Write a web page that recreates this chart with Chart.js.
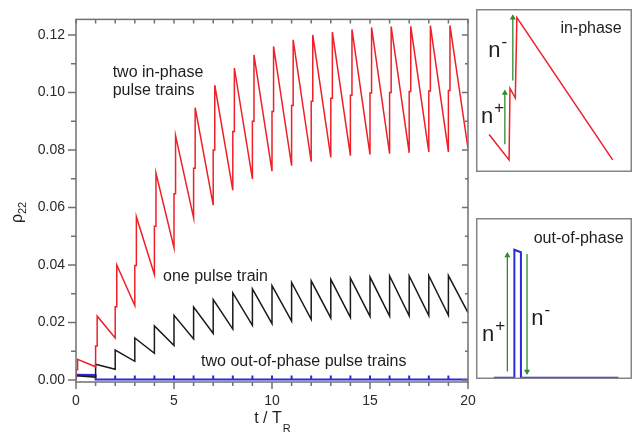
<!DOCTYPE html>
<html>
<head>
<meta charset="utf-8">
<script src="https://cdn.jsdelivr.net/npm/chart.js@4.4.1/dist/chart.umd.min.js"></script>
<style>
    html, body { margin: 0; padding: 0; background: #fff; }
    #wrap { position: relative; width: 637px; height: 436px; }
    #wrap canvas { position: absolute; }
</style>
</head>
<body>
<div id="wrap">
    <canvas id="main" width="637" height="436" style="left:0;top:0"></canvas>
    <canvas id="inTop" width="164" height="171" style="left:472px;top:5px"></canvas>
    <canvas id="inBot" width="164" height="169" style="left:472px;top:214px"></canvas>
</div>
<script>
/*
    Data
*/

// pulse arrival times (t / T_R)
const pulseT = [0, 1, 2, 3, 4, 5, 6, 7, 8, 9, 10, 11, 12, 13, 14, 15, 16, 17, 18, 19];
const secondPulseDelay = 0.08; // the n- pulse comes a little after the n+ pulse

// two in-phase pulse trains (red)
const redTrough = [0, 0.0046, 0.0146, 0.0259, 0.0367, 0.0460, 0.0564, 0.0608, 0.0660, 0.0699,
                   0.0726, 0.0745, 0.0759, 0.0774, 0.0780, 0.0784, 0.0787, 0.0790, 0.0793, 0.0793];
const redMid    = [0.0036, 0.0118, 0.0255, 0.0398, 0.0535, 0.0648, 0.0736, 0.0800, 0.0864, 0.0900,
                   0.0934, 0.0955, 0.0969, 0.0980, 0.0990, 0.0998, 0.1000, 0.1003, 0.1005, 0.1007];
const redPeak   = [0.0072, 0.0222, 0.0400, 0.0568, 0.0720, 0.0850, 0.0947, 0.1025, 0.1085, 0.1131,
                   0.1160, 0.1183, 0.1200, 0.1210, 0.1219, 0.1226, 0.1229, 0.1230, 0.1232, 0.1233];
const redEnd = 0.0805;

// one pulse train (black)
const blackTrough = [0, 0.0010, 0.0037, 0.0065, 0.0093, 0.0120, 0.0143, 0.0162, 0.0177, 0.0190,
                     0.0196, 0.0205, 0.0211, 0.0216, 0.0218, 0.0221, 0.0222, 0.0223, 0.0224, 0.0225];
const blackPeak   = [0.0015, 0.0055, 0.0104, 0.0146, 0.0188, 0.0225, 0.0254, 0.0280, 0.0303, 0.0317,
                     0.0328, 0.0339, 0.0345, 0.0350, 0.0354, 0.0358, 0.0362, 0.0362, 0.0363, 0.0363];
const blackEnd = 0.0234;

// two out-of-phase pulse trains (blue)
const blueBase = 0.0002;
const blueFirst = [0.0018, 0.0017];          // level between t = 0 and t = 1
const blueSpike = [0.0016, 0.0016, 0.0016, 0.0016, 0.0016, 0.0016, 0.0016, 0.0016, 0.0016,
                   0.0016, 0.0016, 0.0016, 0.0016, 0.0016, 0.0016, 0.0016, 0.0016, 0.0016]; // t = 2..19

// axis ticks
const xTickValues = [0, 1, 2, 3, 4, 5, 6, 7, 8, 9, 10, 11, 12, 13, 14, 15, 16, 17, 18, 19, 20];
const xTickLabels = ['0', '', '', '', '', '5', '', '', '', '', '10', '', '', '', '', '15', '', '', '', '', '20'];
const yTickValues = [0, 0.01, 0.02, 0.03, 0.04, 0.05, 0.06, 0.07, 0.08, 0.09, 0.10, 0.11, 0.12];
const yTickLabels = ['0.00', '', '0.02', '', '0.04', '', '0.06', '', '0.08', '', '0.10', '', '0.12'];

// inset sketches, arbitrary units 0..100 across each box
const inPhaseX = [8.4, 21.2, 21.8, 25.2, 26.2, 87.6];
const inPhaseY = [23.0, 7.4, 51.3, 45.4, 94.7, 7.4];
const inPlusArrowX = [18.5, 18.5];
const inPlusArrowY = [17.1, 48.4];
const inMinusArrowX = [23.6, 23.6];
const inMinusArrowY = [56.1, 94.7];

const outPhaseX = [11.4, 24.6, 24.6, 28.8, 28.8, 91.3];
const outPhaseY = [0.8, 0.8, 80.3, 78.7, 0.8, 0.8];
const outPlusArrowX = [20.1, 20.1];
const outPlusArrowY = [4.7, 76.7];
const outMinusArrowX = [32.7, 32.7];
const outMinusArrowY = [77.7, 4.7];

/*
    Build the line points
*/

const redPts = [];
pulseT.forEach((t, i) => {
    redPts.push({x: t, y: redTrough[i]});
    redPts.push({x: t, y: redMid[i]});
    redPts.push({x: t + secondPulseDelay, y: redMid[i]});
    redPts.push({x: t + secondPulseDelay, y: redPeak[i]});
});
redPts.push({x: 20, y: redEnd});

const blackPts = [];
pulseT.forEach((t, i) => {
    blackPts.push({x: t, y: blackTrough[i]});
    blackPts.push({x: t, y: blackPeak[i]});
});
blackPts.push({x: 20, y: blackEnd});

const bluePts = [{x: 0, y: blueBase}, {x: 0, y: blueFirst[0]}, {x: 1, y: blueFirst[1]}, {x: 1, y: blueBase}];
blueSpike.forEach((v, i) => {
    const t = pulseT[i + 2];
    bluePts.push({x: t, y: blueBase}, {x: t, y: v}, {x: t, y: blueBase});
});
bluePts.push({x: 20, y: blueBase});

const zip = (xs, ys) => xs.map((x, i) => ({x: x, y: ys[i]}));

const FONT = "'Liberation Sans', Arial, sans-serif";
const RED = '#ee2028';
const BLUE = '#2a2ad6';
const GREEN = '#2f8a2f';

/*
    Main chart
*/

const notes = [
    {text: 'two in-phase', t: 1.87, v: 0.1054},
    {text: 'pulse trains', t: 1.87, v: 0.0990},
    {text: 'one pulse train', t: 4.44, v: 0.0343},
    {text: 'two out-of-phase pulse trains', t: 6.38, v: 0.0050}
];

const mainDecor = {
    id: 'mainDecor',
    afterDatasetsDraw(chart) {
        const {ctx, chartArea: a, scales: {x, y}} = chart;
        ctx.save();
        ctx.strokeStyle = '#707070';
        ctx.lineWidth = 1.5;
        ctx.strokeRect(a.left, a.top, a.right - a.left, a.bottom - a.top);
        ctx.beginPath();
        x.ticks.forEach(tk => {
            const px = x.getPixelForValue(tk.value);
            ctx.moveTo(px, a.bottom);
            ctx.lineTo(px, a.bottom + (tk.label ? 7 : 4));
            ctx.moveTo(px, a.top);
            ctx.lineTo(px, a.top + 4);
        });
        y.ticks.forEach(tk => {
            const py = y.getPixelForValue(tk.value);
            ctx.moveTo(a.left, py);
            ctx.lineTo(a.left - (tk.label ? 8 : 5), py);
            ctx.moveTo(a.right, py);
            ctx.lineTo(a.right - (tk.label ? 6 : 3), py);
        });
        ctx.stroke();

        // in-plot notes
        ctx.fillStyle = '#1e1e1e';
        ctx.font = '16px ' + FONT;
        ctx.textBaseline = 'alphabetic';
        ctx.textAlign = 'left';
        notes.forEach(n => ctx.fillText(n.text, x.getPixelForValue(n.t), y.getPixelForValue(n.v)));

        // axis titles with subscripts
        ctx.font = '16px ' + FONT;
        const tw = ctx.measureText('t / T').width;
        const cx = (a.left + a.right) / 2;
        ctx.fillText('t / T', cx - tw / 2 - 4, 423);
        ctx.font = '11px ' + FONT;
        ctx.fillText('R', cx + tw / 2 - 3, 432);

        ctx.translate(22, 214);
        ctx.rotate(-Math.PI / 2);
        ctx.font = '16px ' + FONT;
        ctx.fillText('\u03c1', -9, 0);
        ctx.font = '11px ' + FONT;
        ctx.fillText('22', 0, 4);
        ctx.restore();
    }
};

new Chart(document.getElementById('main').getContext('2d'), {
    type: 'line',
    data: {
        datasets: [
            {data: redPts, borderColor: RED, borderWidth: 1.5},
            {data: blackPts, borderColor: '#1a1a1a', borderWidth: 1.5},
            {data: bluePts, borderColor: BLUE, borderWidth: 2}
        ]
    },
    options: {
        animation: false,
        responsive: false,
        events: [],
        elements: {
            point: {radius: 0},
            line: {tension: 0, fill: false}
        },
        layout: {padding: {top: 7, right: 169, left: 0, bottom: 0}},
        plugins: {legend: {display: false}, tooltip: {enabled: false}},
        scales: {
            x: {
                type: 'linear',
                min: 0,
                max: 20,
                afterBuildTicks: s => { s.ticks = xTickValues.map(v => ({value: v})); },
                afterFit: s => { s.height = 54; },
                grid: {display: false, drawTicks: false},
                border: {display: false},
                ticks: {
                    autoSkip: false,
                    maxRotation: 0,
                    padding: 11,
                    color: '#2a2a2a',
                    font: {family: FONT, size: 14},
                    callback: (v, i) => xTickLabels[i]
                }
            },
            y: {
                type: 'linear',
                min: -0.0007,
                max: 0.1254,
                afterBuildTicks: s => { s.ticks = yTickValues.map(v => ({value: v})); },
                afterFit: s => { s.width = 76; },
                grid: {display: false, drawTicks: false},
                border: {display: false},
                ticks: {
                    autoSkip: false,
                    padding: 11,
                    color: '#2a2a2a',
                    font: {family: FONT, size: 14},
                    callback: (v, i) => yTickLabels[i]
                }
            }
        }
    },
    plugins: [mainDecor]
});

/*
    Insets
*/

function drawN(ctx, px, py, sign) {
    ctx.font = '22px ' + FONT;
    ctx.fillText('n', px, py);
    const w = ctx.measureText('n').width;
    ctx.font = '17px ' + FONT;
    ctx.fillText(sign, px + w + 1, py - 10);
}

function insetDecor(title, titlePos, marks) {
    return {
        id: 'insetDecor',
        afterDatasetsDraw(chart) {
            const {ctx, chartArea: a, scales: {x, y}} = chart;
            ctx.save();
            ctx.strokeStyle = '#858585';
            ctx.lineWidth = 1.5;
            ctx.strokeRect(a.left + 0.75, a.top + 0.75, a.right - a.left - 1.5, a.bottom - a.top - 1.5);
            ctx.fillStyle = '#1e1e1e';
            ctx.textBaseline = 'alphabetic';
            ctx.font = '16px ' + FONT;
            ctx.fillText(title, x.getPixelForValue(titlePos[0]), y.getPixelForValue(titlePos[1]));
            marks.forEach(m => drawN(ctx, x.getPixelForValue(m[0]), y.getPixelForValue(m[1]), m[2]));
            ctx.restore();
        }
    };
}

function arrowSet(xs, ys, rot) {
    return {
        data: zip(xs, ys),
        borderColor: GREEN,
        backgroundColor: GREEN,
        borderWidth: 1.3,
        pointStyle: 'triangle',
        pointRadius: [0, 3.5],
        pointBorderWidth: 0,
        pointRotation: rot
    };
}

function insetOptions() {
    return {
        animation: false,
        responsive: false,
        events: [],
        elements: {point: {radius: 0}, line: {tension: 0, fill: false}},
        layout: {padding: 0},
        plugins: {legend: {display: false}, tooltip: {enabled: false}},
        scales: {
            x: {type: 'linear', min: 0, max: 100, display: false},
            y: {type: 'linear', min: 0, max: 100, display: false}
        }
    };
}

new Chart(document.getElementById('inTop').getContext('2d'), {
    type: 'line',
    data: {
        datasets: [
            arrowSet(inPlusArrowX, inPlusArrowY, 0),
            arrowSet(inMinusArrowX, inMinusArrowY, 0),
            {data: zip(inPhaseX, inPhaseY), borderColor: RED, borderWidth: 1.5}
        ]
    },
    options: insetOptions(),
    plugins: [insetDecor('in-phase', [54.1, 85.0], [[7.9, 70.8, '-'], [3.2, 29.8, '+']])]
});

new Chart(document.getElementById('inBot').getContext('2d'), {
    type: 'line',
    data: {
        datasets: [
            arrowSet(outPlusArrowX, outPlusArrowY, 0),
            arrowSet(outMinusArrowX, outMinusArrowY, 180),
            {data: zip(outPhaseX, outPhaseY), borderColor: BLUE, borderWidth: 2}
        ]
    },
    options: insetOptions(),
    plugins: [insetDecor('out-of-phase', [37.0, 84.6], [[3.8, 23.5, '+'], [35.4, 33.3, '-']])]
});
</script>
</body>
</html>
